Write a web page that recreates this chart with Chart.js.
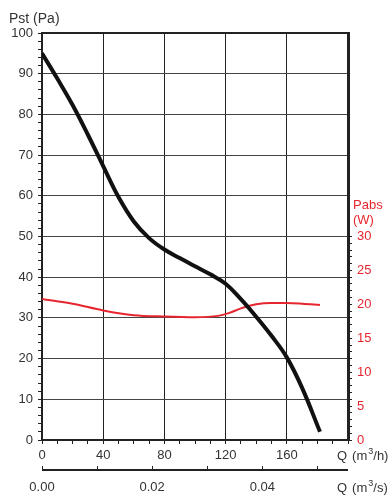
<!DOCTYPE html>
<html>
<head>
<meta charset="utf-8">
<script src="https://cdn.jsdelivr.net/npm/chart.js@4/dist/chart.umd.min.js"></script>
<style>
  html, body { margin: 0; padding: 0; background: #fff; }
  #wrap { width: 392px; height: 495px; }
</style>
</head>
<body>
<div id="wrap"><canvas id="fanChart" width="392" height="495"></canvas></div>
<script>
// curva de presion estatica (Q en m3/h, Pst en Pa)
const qPst = [0, 10, 20, 30, 40, 50, 60, 70, 80, 90, 100, 110, 120, 130, 140, 150, 160, 170, 181.7];
const pst  = [95, 88.8, 82.3, 75, 67.3, 59.7, 53.7, 49.6, 46.8, 44.7, 42.7, 40.7, 38.4, 34.6, 30.3, 25.6, 20.3, 12.8, 2];

// potencia absorbida (Q en m3/h, Pabs en W)
const qPabs = [0, 20, 40, 60, 80, 100, 115, 122, 130, 140, 150, 160, 170, 181.7];
const pabs  = [20.8, 20.1, 19.1, 18.4, 18.2, 18.1, 18.3, 18.7, 19.4, 20.0, 20.2, 20.2, 20.1, 19.9];

// etiquetas de ejes
const qHourLabels = [0, 40, 80, 120, 160];
const qSecLabels = [0.00, 0.02, 0.04];
const pstLabels = [0, 10, 20, 30, 40, 50, 60, 70, 80, 90, 100];
const pabsLabels = [0, 5, 10, 15, 20, 25, 30];

const RED = '#e6262f';
const INK = '#222';
const FONT = '"Liberation Sans", Arial, sans-serif';

const pts = (xs, ys) => xs.map((x, i) => ({ x: x, y: ys[i] }));

// textos de ejes y borde superior
const extrasPlugin = {
    id: 'extras',
    afterDraw(chart) {
        const ctx = chart.ctx;
        const area = chart.chartArea;
        ctx.save();

        // borde superior
        ctx.strokeStyle = INK;
        ctx.lineWidth = 2;
        ctx.beginPath();
        ctx.moveTo(area.left - 1, area.top);
        ctx.lineTo(area.right + 1, area.top);
        ctx.stroke();

        // linea del eje m3/s (ticks hacia arriba)
        const x2 = chart.scales.x2;
        ctx.beginPath();
        ctx.moveTo(x2.left, x2.top + 4);
        ctx.lineTo(x2.right, x2.top + 4);
        ctx.stroke();

        ctx.textBaseline = 'middle';
        ctx.textAlign = 'left';
        ctx.fillStyle = '#333';
        ctx.font = '14px ' + FONT;
        ctx.fillText('Pst (Pa)', 9, 19);

        const unit = (y, tail) => {
            let x = 337;
            ctx.font = '13px ' + FONT;
            ctx.fillText('Q', x, y);
            x += ctx.measureText('Q').width + 5;
            ctx.fillText('(m', x, y);
            x += ctx.measureText('(m').width + 1;
            ctx.font = '9px ' + FONT;
            ctx.fillText('3', x, y - 4);
            x += ctx.measureText('3').width;
            ctx.font = '13px ' + FONT;
            ctx.fillText(tail, x, y);
        };
        unit(456, '/h)');
        unit(488, '/s)');

        ctx.fillStyle = RED;
        ctx.font = '13px ' + FONT;
        ctx.fillText('Pabs', 353, 205);
        ctx.fillText('(W)', 353, 220);
        ctx.restore();
    }
};

new Chart(document.getElementById('fanChart'), {
    type: 'line',
    data: {
        datasets: [
            {
                label: 'Pst',
                data: pts(qPst, pst),
                yAxisID: 'y',
                borderColor: '#111',
                borderWidth: 4,
                pointRadius: 0,
                tension: 0.4,
                order: 0
            },
            {
                label: 'Pabs',
                data: pts(qPabs, pabs),
                yAxisID: 'y1',
                borderColor: RED,
                borderWidth: 2,
                pointRadius: 0,
                cubicInterpolationMode: 'monotone',
                order: 1
            }
        ]
    },
    options: {
        responsive: false,
        animation: false,
        layout: { padding: { top: 33, left: 0, right: 0, bottom: 0 } },
        plugins: { legend: { display: false }, tooltip: { enabled: false } },
        scales: {
            x: {
                type: 'linear',
                position: 'bottom',
                min: 0,
                max: 200,
                weight: 0,
                afterFit: (s) => { s.height = 26; },
                border: { display: true, width: 2, color: INK },
                grid: {
                    color: (c) => (c.tick && c.tick.value % 40 === 0 && c.tick.value > 0 && c.tick.value < 200) ? INK : 'transparent',
                    tickColor: INK,
                    tickLength: 4,
                    lineWidth: 1
                },
                ticks: {
                    stepSize: 10,
                    autoSkip: false,
                    maxRotation: 0,
                    padding: 4,
                    color: '#333',
                    font: { family: FONT, size: 13 },
                    callback: (v) => qHourLabels.includes(v) ? String(v) : ''
                }
            },
            x2: {
                type: 'linear',
                position: 'bottom',
                min: 0,
                max: 200 / 3600,
                weight: 1,
                afterFit: (s) => { s.height = 29; },
                border: { display: false },
                grid: {
                    drawOnChartArea: false,
                    color: INK,
                    tickColor: INK,
                    tickLength: 4,
                    lineWidth: 1
                },
                ticks: {
                    stepSize: 0.01,
                    includeBounds: false,
                    autoSkip: false,
                    maxRotation: 0,
                    padding: 10,
                    color: '#333',
                    font: { family: FONT, size: 13 },
                    callback: (v) => {
                        const hit = qSecLabels.find((l) => Math.abs(l - v) < 1e-6);
                        return hit !== undefined ? hit.toFixed(2) : '';
                    }
                }
            },
            y: {
                type: 'linear',
                position: 'left',
                min: 0,
                max: 100,
                afterFit: (s) => { s.width = 42; },
                border: { display: true, width: 2, color: INK },
                grid: {
                    color: (c) => (c.tick && c.tick.value % 10 === 0 && c.tick.value > 0 && c.tick.value < 100) ? '#444' : 'transparent',
                    tickColor: INK,
                    tickLength: 4,
                    lineWidth: 1
                },
                ticks: {
                    stepSize: 2,
                    autoSkip: false,
                    padding: 5,
                    color: '#333',
                    font: { family: FONT, size: 13 },
                    callback: (v) => pstLabels.includes(v) ? String(v) : ''
                }
            },
            y1: {
                type: 'linear',
                position: 'right',
                min: 0,
                max: 60,
                afterFit: (s) => { s.width = 44; },
                border: { display: true, width: 3, color: INK },
                grid: {
                    drawOnChartArea: false,
                    tickColor: (c) => (c.tick && c.tick.value <= 30) ? INK : 'transparent',
                    tickLength: 4,
                    lineWidth: 1
                },
                ticks: {
                    stepSize: 1,
                    autoSkip: false,
                    padding: 5,
                    color: RED,
                    font: { family: FONT, size: 13 },
                    callback: (v) => pabsLabels.includes(v) ? String(v) : ''
                }
            }
        }
    },
    plugins: [extrasPlugin]
});
</script>
</body>
</html>
